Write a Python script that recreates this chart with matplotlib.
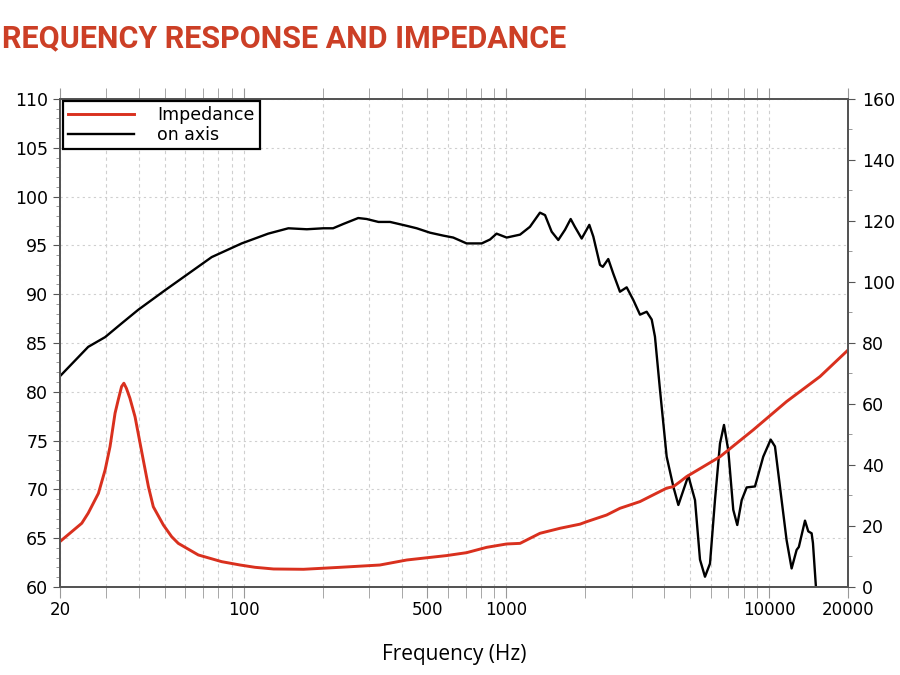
import numpy as np
import matplotlib.pyplot as plt
from matplotlib.ticker import FixedLocator, NullFormatter

plt.rcParams['font.family'] = ['DejaVu Sans']

# on-axis response (dB SPL)
spl_freq = [20, 25.6, 29.7, 34.3, 39.7, 50.2, 61.6, 75.6, 98.3, 124, 148, 174, 201, 219,
            240, 273, 294, 326, 361, 418, 456, 512, 575, 628, 706, 806, 867, 918, 1003,
            1128, 1230, 1343, 1404, 1488, 1577, 1673, 1758, 1824, 1936, 2070, 2144, 2273,
            2330, 2444, 2554, 2708, 2872, 3044, 3228, 3422, 3577, 3680, 3846, 4078, 4322,
            4518, 4930, 5228, 5462, 5706, 5962, 6228, 6508, 6740, 6998, 7312, 7572, 7872,
            8224, 8844, 9508, 10148, 10538, 11170, 11668, 12194, 12740, 12990, 13710,
            14110, 14530, 14700, 15090, 15200]
spl_db = [81.6, 84.6, 85.6, 87.0, 88.4, 90.4, 92.1, 93.8, 95.2, 96.2, 96.75, 96.65, 96.75,
          96.75, 97.2, 97.8, 97.7, 97.4, 97.4, 97.0, 96.75, 96.3, 96.0, 95.8, 95.2, 95.2,
          95.6, 96.2, 95.8, 96.1, 96.9, 98.35, 98.1, 96.4, 95.55, 96.6, 97.7, 96.9, 95.7,
          97.1, 95.9, 93.0, 92.8, 93.6, 92.1, 90.25, 90.7, 89.4, 87.9, 88.2, 87.4, 85.65,
          80.2, 73.35, 70.3, 68.4, 71.4, 68.9, 62.8, 61.05, 62.4, 68.9, 74.7, 76.6, 74.0,
          67.9, 66.35, 68.9, 70.2, 70.3, 73.35, 75.1, 74.4, 68.9, 64.8, 61.9, 63.8, 64.1,
          66.8, 65.7, 65.5, 64.5, 60.0, 55.0]

# impedance (ohm)
imp_freq = [20, 24.2, 25.6, 28.0, 29.7, 31.0, 32.4, 33.3, 34.3, 35.0, 35.8, 36.9, 38.6,
            41.5, 43.4, 45.3, 49.5, 53.2, 56.4, 67.2, 82.5, 97, 110.5, 130, 169, 233, 330,
            418, 593, 706, 842, 1003, 1128, 1343, 1602, 1908, 2022, 2410, 2708, 2958, 3228,
            3626, 4078, 4322, 4582, 4858, 6508, 8710, 11668, 15640, 20000]
imp_ohm = [14.9, 20.9, 24.2, 30.7, 38.4, 46.0, 57.0, 61.3, 65.7, 66.8, 65.1, 61.9, 55.8,
           41.6, 32.9, 26.3, 20.3, 16.5, 14.3, 10.5, 8.3, 7.2, 6.45, 5.9, 5.8, 6.45, 7.2,
           8.85, 10.3, 11.25, 13.0, 14.1, 14.3, 17.6, 19.25, 20.6, 21.4, 23.6, 25.8, 26.9,
           28.0, 30.2, 32.4, 32.9, 34.5, 36.2, 42.7, 51.5, 60.8, 69.0, 77.7]

xticks = [20, 100, 500, 1000, 10000, 20000]
minor_x = [m * d for d in (10, 100, 1000, 10000) for m in range(2, 10) if 20 <= m * d <= 20000]

axis_col = '#555555'
grid_col = '#cfcfcf'

fig = plt.figure(figsize=(9, 6.75), dpi=100)
ax = fig.add_axes([0.0667, 0.1304, 0.8756, 0.7230])
ax2 = ax.twinx()

ax.set_xscale('log')
ax.set_xlim(20, 20000)
ax.set_ylim(60, 110)
ax2.set_ylim(0, 160)

l1, = ax.plot(spl_freq, spl_db, color='black', lw=1.7, solid_joinstyle='round')
l2, = ax2.plot(imp_freq, imp_ohm, color='#d9301e', lw=2.1, solid_joinstyle='round')

ax.xaxis.set_major_locator(FixedLocator(xticks))
ax.set_xticklabels([str(t) for t in xticks])
ax.xaxis.set_minor_locator(FixedLocator(minor_x))
ax.xaxis.set_minor_formatter(NullFormatter())
ax.set_yticks(np.arange(60, 111, 5))
ax.yaxis.set_minor_locator(FixedLocator(np.arange(60, 111, 1)))
ax2.set_yticks(np.arange(0, 161, 20))
ax2.yaxis.set_minor_locator(FixedLocator(np.arange(0, 161, 10)))

ax.grid(True, which='both', axis='x', color=grid_col, ls=(0, (3, 3)), lw=0.8)
ax.grid(True, which='major', axis='y', color=grid_col, ls=(0, (2, 3)), lw=0.8)

ax.tick_params(axis='x', which='both', top=True, direction='out', length=8,
               color='#999999', labelsize=12, pad=2)
ax.tick_params(axis='y', which='major', direction='out', length=5, color=axis_col, labelsize=12.5)
ax.tick_params(axis='y', which='minor', direction='out', length=3, color='#888888')
ax2.tick_params(axis='y', which='major', direction='out', length=5, color=axis_col,
                labelsize=12.5, pad=5)
ax2.tick_params(axis='y', which='minor', direction='out', length=3, color='#888888')

for a in (ax, ax2):
    for s in a.spines.values():
        s.set_color(axis_col)
        s.set_linewidth(1.4)

ax.set_xlabel('Frequency (Hz)', fontsize=15, labelpad=18,
              family=['Open Sans', 'DejaVu Sans'])

leg = ax2.legend([l2, l1], ['Impedance', 'on axis'], loc='upper left',
                 bbox_to_anchor=(0.004, 0.996), borderaxespad=0,
                 prop={'family': ['DejaVu Sans'], 'size': 12.5},
                 handlelength=3.8, handletextpad=1.3, borderpad=0.3, labelspacing=0.1,
                 fancybox=False, framealpha=1, edgecolor='black')
leg.get_frame().set_linewidth(1.6)

fig.text(0.002, 0.944, 'REQUENCY RESPONSE AND IMPEDANCE', color='#cc3f26',
         fontsize=22, fontweight='bold', va='center', ha='left',
         family=['Roboto', 'DejaVu Sans'])

fig.savefig('out.png', dpi=100)
